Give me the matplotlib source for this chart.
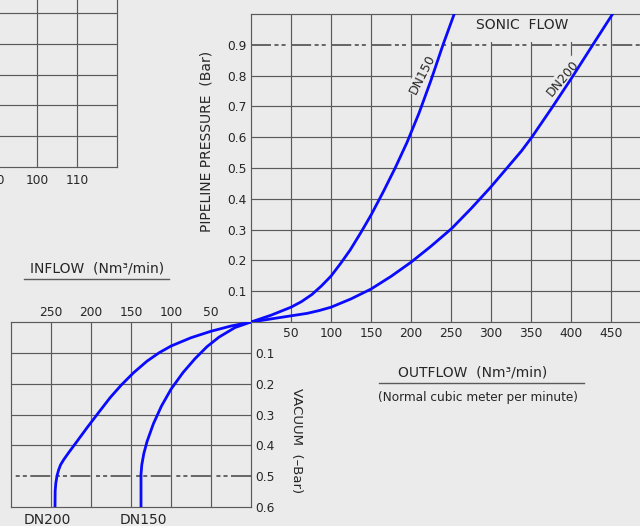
import matplotlib
matplotlib.use("Agg")
import matplotlib.pyplot as plt
from matplotlib.lines import Line2D
from matplotlib.patches import Rectangle

plt.rcParams['font.family'] = ['DejaVu Sans']
plt.rcParams['lines.scale_dashes'] = False

# ---------------- data ----------------
# Outflow (upper right): flow Nm3/min vs pipeline pressure (bar)
dn150_out_flow = [0, 25, 50, 63, 76, 88, 100, 112, 124, 137, 150, 165, 180, 195, 210, 225, 240, 254]
dn150_out_pres = [0, 0.022, 0.048, 0.066, 0.089, 0.117, 0.149, 0.19, 0.234, 0.289, 0.347, 0.421, 0.499,
                  0.583, 0.678, 0.785, 0.900, 1.0]
dn200_out_flow = [0, 20, 40, 70, 85, 100, 125, 150, 175, 200, 225, 251, 275, 299, 320, 338, 351, 376, 401,
                  428, 452]
dn200_out_pres = [0, 0.008, 0.016, 0.028, 0.037, 0.048, 0.075, 0.107, 0.148, 0.194, 0.246, 0.304, 0.368,
                  0.436, 0.5, 0.555, 0.6, 0.695, 0.793, 0.903, 1.0]

# Inflow (lower left): flow Nm3/min vs vacuum (-bar)
dn150_in_flow = [0, 20, 40, 55, 70, 85, 100, 112, 122, 130, 134, 136.5, 137.5, 137.5]
dn150_in_vac = [0, 0.018, 0.049, 0.080, 0.119, 0.164, 0.218, 0.273, 0.330, 0.388, 0.427, 0.463, 0.494, 0.6]
dn200_in_flow = [0, 25, 50, 75, 100, 115, 130, 147, 162, 176, 190, 205, 220, 228, 234, 238, 240.5, 242.5,
                 244, 244.8, 245]
dn200_in_vac = [0, 0.013, 0.030, 0.051, 0.078, 0.100, 0.127, 0.165, 0.204, 0.245, 0.292, 0.343, 0.396,
                0.424, 0.446, 0.463, 0.480, 0.499, 0.523, 0.548, 0.6]

out_ticks = [50, 100, 150, 200, 250, 300, 350, 400, 450]
pres_ticks = [0.1, 0.2, 0.3, 0.4, 0.5, 0.6, 0.7, 0.8, 0.9]
in_ticks = [50, 100, 150, 200, 250]
vac_ticks = [0.1, 0.2, 0.3, 0.4, 0.5, 0.6]
left_ticks = [90, 100, 110]
left_rows = [1, 2, 3, 4, 5]
sonic_pressure = 0.9
vac_limit = 0.5

# ---------------- style ----------------
W, H = 640, 526
BG = '#ebebeb'
GRID = '#5a5a5a'
TXT = '#262626'
BLUE = '#0a0aff'
GLW = 0.85
CLW = 2.0
DASH = [14.4, 2.5, 2.9, 2.2, 2.9, 4.0]


def fx(x):
    return x / W


def fy(y):
    return 1 - y / H


fig = plt.figure(figsize=(6.4, 5.26), dpi=100, facecolor=BG)

# ---------- upper-left partial chart ----------
axl = fig.add_axes([fx(-43), fy(167), 160 / W, 184.8 / H])
axl.set_facecolor('none')
axl.set_xlim(80, 120)
axl.set_ylim(0, 6)
for x in left_ticks:
    axl.axvline(x, color=GRID, lw=GLW, zorder=1)
for y in left_rows:
    axl.axhline(y, color=GRID, lw=GLW, zorder=1)
axl.set_xticks(left_ticks)
axl.set_xticklabels([str(v) for v in left_ticks], fontsize=8.8, color=TXT)
axl.set_yticks([])
axl.tick_params(length=0, pad=5)
for s in ['top', 'left']:
    axl.spines[s].set_visible(False)
for s in ['right', 'bottom']:
    axl.spines[s].set_color(GRID)
    axl.spines[s].set_linewidth(GLW)

# ---------- main (outflow) chart ----------
ax = fig.add_axes([fx(251), fy(322), (W - 251) / W, 308 / H])
ax.set_facecolor('none')
ax.set_xlim(0, (W - 251) / 0.8)
ax.set_ylim(0, 1.0)
for x in out_ticks:
    ax.axvline(x, color=GRID, lw=GLW, zorder=1)
for y in pres_ticks:
    if abs(y - sonic_pressure) > 1e-6:
        ax.axhline(y, color=GRID, lw=GLW, zorder=1)
ax.add_patch(Rectangle((243, 0.908), 203, 0.088, facecolor=BG, edgecolor='none', zorder=1.5))
sl, = ax.plot([0, ax.get_xlim()[1]], [sonic_pressure, sonic_pressure], color=GRID, lw=1.3, zorder=2)
sl.set_dashes(DASH)
ax.plot(dn150_out_flow, dn150_out_pres, color=BLUE, lw=CLW, zorder=4, solid_joinstyle='round')
ax.plot(dn200_out_flow, dn200_out_pres, color=BLUE, lw=CLW, zorder=4, solid_joinstyle='round')
ax.set_xticks(out_ticks)
ax.set_xticklabels([str(v) for v in out_ticks], fontsize=8.8, color=TXT)
ax.set_yticks(pres_ticks)
ax.set_yticklabels([f'{v:.1f}' for v in pres_ticks], fontsize=8.8, color=TXT)
ax.tick_params(axis='x', length=0, pad=3.5)
ax.tick_params(axis='y', length=0, pad=3)
ax.spines['right'].set_visible(False)
for s in ['top', 'left', 'bottom']:
    ax.spines[s].set_color(GRID)
    ax.spines[s].set_linewidth(GLW)

ax.text(fx(522), fy(25), 'SONIC  FLOW', transform=fig.transFigure, fontsize=10, color=TXT,
        ha='center', va='center', zorder=3)
ax.text(fx(422.5), fy(74), 'DN150', transform=fig.transFigure, fontsize=9, color=TXT,
        ha='center', va='center', rotation=63, rotation_mode='anchor',
        bbox=dict(facecolor=BG, edgecolor='none', pad=1.0), zorder=3)
ax.text(fx(563), fy(78), 'DN200', transform=fig.transFigure, fontsize=9, color=TXT,
        ha='center', va='center', rotation=50, rotation_mode='anchor',
        bbox=dict(facecolor=BG, edgecolor='none', pad=1.0), zorder=3)

# ---------- lower (inflow / vacuum) chart ----------
ax2 = fig.add_axes([fx(11), fy(507), 240 / W, 185 / H])
ax2.set_facecolor('none')
ax2.set_xlim(300, 0)
ax2.set_ylim(0.6, 0)
for x in in_ticks:
    ax2.axvline(x, color=GRID, lw=GLW, zorder=1)
for y in vac_ticks[:-1]:
    if abs(y - vac_limit) > 1e-6:
        ax2.axhline(y, color=GRID, lw=GLW, zorder=1)
vl, = ax2.plot([0, 300], [vac_limit, vac_limit], color=GRID, lw=1.3, zorder=2)
vl.set_dashes(DASH)
ax2.plot(dn150_in_flow, dn150_in_vac, color=BLUE, lw=CLW, zorder=4, solid_joinstyle='round')
ax2.plot(dn200_in_flow, dn200_in_vac, color=BLUE, lw=CLW, zorder=4, solid_joinstyle='round')
ax2.xaxis.tick_top()
ax2.yaxis.tick_right()
ax2.set_xticks(in_ticks)
ax2.set_xticklabels([str(v) for v in in_ticks], fontsize=8.8, color=TXT)
ax2.set_yticks(vac_ticks)
ax2.set_yticklabels([f'{v:.1f}' for v in vac_ticks], fontsize=8.8, color=TXT)
ax2.tick_params(axis='x', length=0, pad=2)
ax2.tick_params(axis='y', length=0, pad=3)
for s in ax2.spines.values():
    s.set_color(GRID)
    s.set_linewidth(GLW)

# ---------- labels ----------
fig.text(fx(206), fy(141), 'PIPELINE PRESSURE  (Bar)', fontsize=10, color=TXT, rotation=90,
         ha='center', va='center')
fig.text(fx(297), fy(441), 'VACUUM  (\u2013Bar)', fontsize=9.5, color=TXT, rotation=-90,
         ha='center', va='center')
fig.text(fx(97), fy(268), 'INFLOW  (Nm\u00b3/min)', fontsize=10, color=TXT, ha='center', va='center')
fig.add_artist(Line2D([fx(24), fx(169)], [fy(279), fy(279)], color=GRID, lw=1.0, transform=fig.transFigure))
fig.text(fx(473), fy(372), 'OUTFLOW  (Nm\u00b3/min)', fontsize=10, color=TXT, ha='center', va='center')
fig.add_artist(Line2D([fx(379), fx(584)], [fy(383), fy(383)], color=GRID, lw=1.0, transform=fig.transFigure))
fig.text(fx(478), fy(397), '(Normal cubic meter per minute)', fontsize=8.7, color=TXT,
         ha='center', va='center')
fig.text(fx(47), fy(520), 'DN200', fontsize=10, color=TXT, ha='center', va='center')
fig.text(fx(143), fy(520), 'DN150', fontsize=10, color=TXT, ha='center', va='center')

fig.savefig('out.png', dpi=100, facecolor=BG)
